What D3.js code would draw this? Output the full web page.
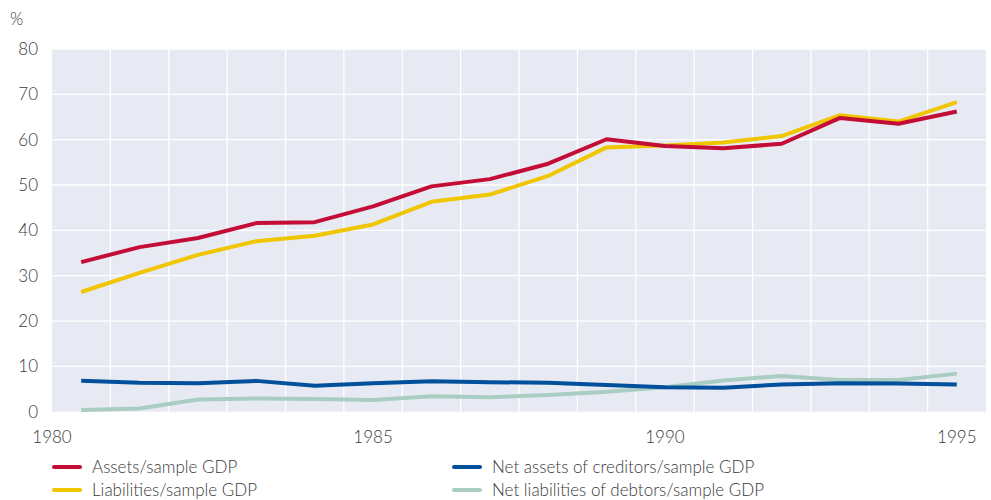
<!DOCTYPE html>
<html>
<head>
<meta charset="utf-8">
<script src="https://cdn.jsdelivr.net/npm/d3@7"></script>
<style>
  body { margin: 0; background: #fff; }
  svg { display: block; }
  text { font-family: Lato, "Open Sans", sans-serif; font-weight: 300; fill: #3a3a3a; }
</style>
</head>
<body>
<svg id="chart" width="991" height="500"></svg>
<script>
const years = [1980,1981,1982,1983,1984,1985,1986,1987,1988,1989,1990,1991,1992,1993,1994,1995];
const assets      = [33.0,36.3,38.3,41.6,41.8,45.3,49.7,51.3,54.7,60.1,58.6,58.1,59.1,64.8,63.5,66.2];
const liabilities = [26.4,30.6,34.6,37.6,38.8,41.3,46.3,47.9,52.0,58.3,58.7,59.4,60.8,65.4,64.0,68.3];
const netCreditors = [6.8,6.4,6.3,6.8,5.7,6.3,6.7,6.5,6.4,5.9,5.4,5.3,6.0,6.3,6.2,6.0];
const netDebtors   = [0.4,0.7,2.7,2.9,2.8,2.6,3.4,3.2,3.7,4.4,5.4,6.9,7.9,7.0,7.0,8.4];
const yTicks = [0,10,20,30,40,50,60,70,80];
const xTickLabels = ["1980","1985","1990","1995"];

const series = [
  { name: "Assets/sample GDP", values: assets, color: "#c30d36" },
  { name: "Liabilities/sample GDP", values: liabilities, color: "#efc600" },
  { name: "Net assets of creditors/sample GDP", values: netCreditors, color: "#00509b" },
  { name: "Net liabilities of debtors/sample GDP", values: netDebtors, color: "#a9cdc3" }
];
const drawOrder = [3, 2, 1, 0];

const svg = d3.select("#chart");
const L = 52, R = 986, T = 49, B = 411.7;

const x = d3.scaleBand().domain(years).range([L, R]).paddingInner(0).paddingOuter(0);
const y = d3.scaleLinear().domain([0, 80]).range([B, T]);
const cx = d => x(d) + x.bandwidth() / 2;

svg.append("rect").attr("x", L).attr("y", T).attr("width", R - L).attr("height", B - T).attr("fill", "#e8eaf3");

// vertical grid at band boundaries
svg.append("g").selectAll("line").data(years.slice(1)).join("line")
  .attr("x1", d => x(d)).attr("x2", d => x(d))
  .attr("y1", T).attr("y2", B)
  .attr("stroke", "#fff").attr("stroke-width", 1.3);

// horizontal grid
svg.append("g").selectAll("line").data(yTicks.slice(1)).join("line")
  .attr("x1", L).attr("x2", R)
  .attr("y1", d => y(d)).attr("y2", d => y(d))
  .attr("stroke", "#fff").attr("stroke-width", 1.3);

// y axis labels
const yAxis = d3.axisLeft(y).tickValues(yTicks).tickSize(0).tickPadding(14);
const gy = svg.append("g").attr("transform", `translate(${L},0)`).call(yAxis);
gy.select(".domain").remove();
gy.selectAll("text").attr("font-size", 17).style("font-family", "Lato, sans-serif").style("font-weight", 300).attr("fill", "#3a3a3a");

svg.append("text").attr("x", 10).attr("y", 25).attr("font-size", 17).text("%");

// x axis labels
const xPos = lbl => lbl === "1980" ? L : cx(+lbl);
svg.append("g").selectAll("text").data(xTickLabels).join("text")
  .attr("x", d => xPos(d)).attr("y", 443)
  .attr("text-anchor", "middle").attr("font-size", 17)
  .text(d => d);

// lines
const line = d3.line().x((d, i) => cx(years[i])).y(d => y(d));
svg.append("g").selectAll("path").data(drawOrder.map(i => series[i])).join("path")
  .attr("d", d => line(d.values))
  .attr("fill", "none").attr("stroke", d => d.color)
  .attr("stroke-width", 4).attr("stroke-linejoin", "round");

// legend
const legendPos = [[52, 467], [52, 490], [452, 467], [452, 490]];
const lg = svg.append("g").selectAll("g").data(series).join("g")
  .attr("transform", (d, i) => `translate(${legendPos[i][0]},${legendPos[i][1]})`);
lg.append("line").attr("x1", 2).attr("x2", 28).attr("y1", 0).attr("y2", 0)
  .attr("stroke", d => d.color).attr("stroke-width", 4).attr("stroke-linecap", "round");
lg.append("text").attr("x", 40).attr("y", 0).attr("dy", "0.35em").attr("font-size", 17).text(d => d.name);
</script>
</body>
</html>
